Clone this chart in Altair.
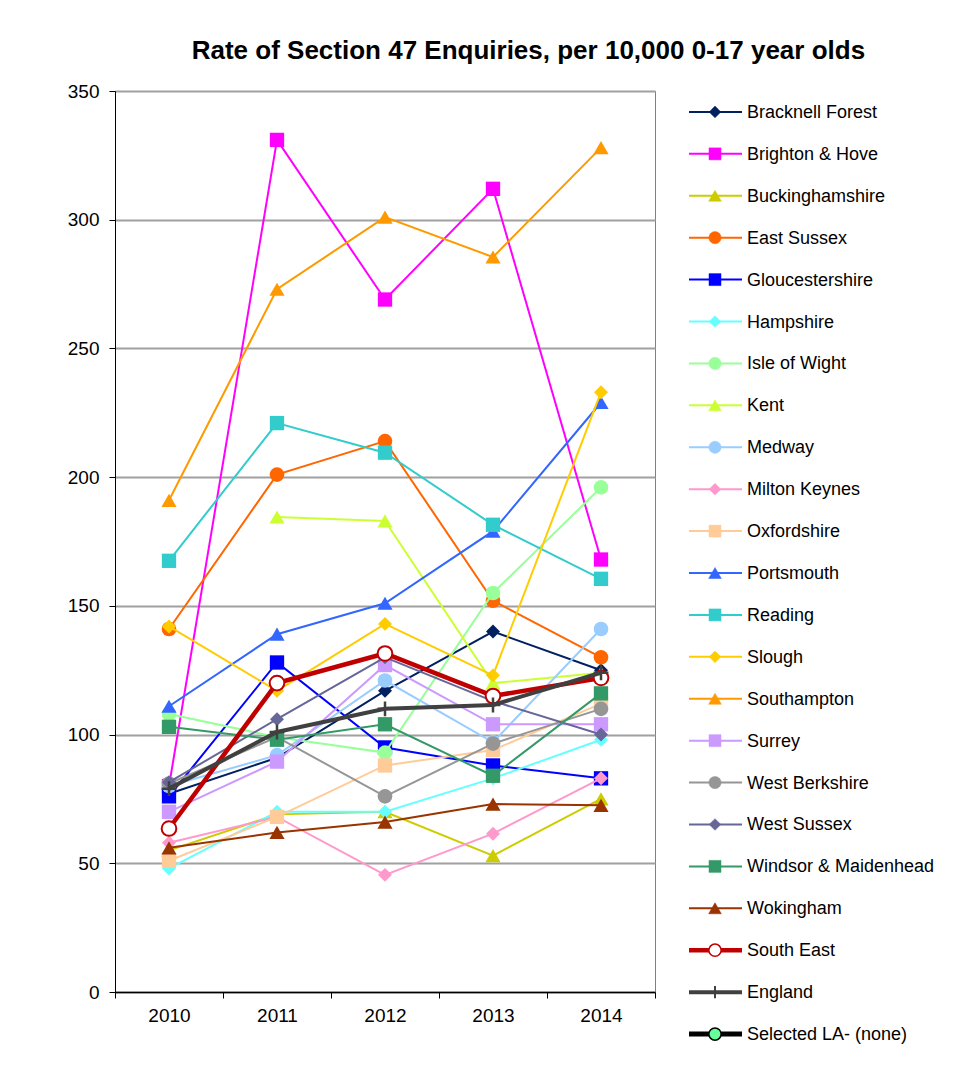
import altair as alt
import pandas as pd

FONT = "Liberation Sans, Arial, sans-serif"

years = ["2010", "2011", "2012", "2013", "2014"]

bracknell_forest = [77, 91, 117, 140, 125]
brighton_hove = [80, 331, 269, 312, 168]
buckinghamshire = [55, 69, 70, 53, 75]
east_sussex = [141, 201, 214, 152, 130]
gloucestershire = [76, 128, 95, 88, 83]
hampshire = [48, 70, 70, 83, 98]
isle_of_wight = [108, 99, 93, 155, 196]
kent = [None, 184.5, 183, 120, 124]
medway = [80, 92, 121, 97, 141]
milton_keynes = [58, 68, 45.5, 61.5, 83]
oxfordshire = [51, 68, 88, 94, 112]
portsmouth = [111, 139, 151, 179, 229]
reading = [167.5, 221, 209.5, 181.5, 160.5]
slough = [142, 117, 143, 123, 233]
southampton = [191, 273, 301, 285.5, 328]
surrey = [70, 89.5, 127, 104, 104]
west_berkshire = [81, 99, 76, 96.5, 110]
west_sussex = [81.5, 106, 130, 113, 100]
windsor_maidenhead = [103, 98, 104, 84, 116]
wokingham = [56, 62, 66, 73, 72.5]
south_east = [63.5, 120, 131.5, 115, 122]
england = [79, 101, 110, 111.5, 124]

series_names = [
    "Bracknell Forest", "Brighton & Hove", "Buckinghamshire", "East Sussex",
    "Gloucestershire", "Hampshire", "Isle of Wight", "Kent", "Medway",
    "Milton Keynes", "Oxfordshire", "Portsmouth", "Reading", "Slough",
    "Southampton", "Surrey", "West Berkshire", "West Sussex",
    "Windsor & Maidenhead", "Wokingham", "South East", "England",
]
series_values = [
    bracknell_forest, brighton_hove, buckinghamshire, east_sussex,
    gloucestershire, hampshire, isle_of_wight, kent, medway, milton_keynes,
    oxfordshire, portsmouth, reading, slough, southampton, surrey,
    west_berkshire, west_sussex, windsor_maidenhead, wokingham, south_east,
    england,
]
legend_names = series_names + ["Selected LA- (none)"]

PLUS = "M-1,0L1,0M0,-1L0,1"

# style: color, shape, line width, marker fill
styles = {
    "Bracknell Forest": ("#002060", "diamond", 2, None),
    "Brighton & Hove": ("#FF00FF", "square", 2, None),
    "Buckinghamshire": ("#CCCC00", "triangle-up", 2, None),
    "East Sussex": ("#FF6600", "circle", 2, None),
    "Gloucestershire": ("#0000FF", "square", 2, None),
    "Hampshire": ("#66FFFF", "diamond", 2, None),
    "Isle of Wight": ("#99FF99", "circle", 2, None),
    "Kent": ("#CCFF33", "triangle-up", 2, None),
    "Medway": ("#99CCFF", "circle", 2, None),
    "Milton Keynes": ("#FF99CC", "diamond", 2, None),
    "Oxfordshire": ("#FFCC99", "square", 2, None),
    "Portsmouth": ("#3366FF", "triangle-up", 2, None),
    "Reading": ("#33CCCC", "square", 2, None),
    "Slough": ("#FFCC00", "diamond", 2, None),
    "Southampton": ("#FF9900", "triangle-up", 2, None),
    "Surrey": ("#CC99FF", "square", 2, None),
    "West Berkshire": ("#969696", "circle", 2, None),
    "West Sussex": ("#666699", "diamond", 2, None),
    "Windsor & Maidenhead": ("#339966", "square", 2, None),
    "Wokingham": ("#993300", "triangle-up", 2, None),
    "South East": ("#C00000", "circle", 4.5, "white"),
    "England": ("#404040", PLUS, 4, None),
    "Selected LA- (none)": ("#000000", "circle", 5, "#66FF99"),
}
marker_size = {"diamond": 195, "square": 205, "triangle-up": 230, "circle": 215, PLUS: 220}

x_scale = alt.Scale(type="band", domain=years, paddingInner=0, paddingOuter=0)
y_scale = alt.Scale(domain=[0, 350], nice=False, zero=True)
x_axis = alt.Axis(title=None, labelFontSize=19, labelFont=FONT, labelColor="black",
                  labelAngle=0, tickBand="extent", tickSize=6, tickColor="black",
                  domainColor="black", domainWidth=1.5, grid=False, labelPadding=8)
y_axis = alt.Axis(title=None, values=[0, 50, 100, 150, 200, 250, 300, 350],
                  labelFontSize=19, labelFont=FONT, labelColor="black",
                  tickSize=6, tickColor="black", domainColor="black",
                  gridColor="#A0A0A0", gridWidth=2, labelPadding=10)

layers = []
for name, vals in zip(series_names, series_values):
    color, shape, lw, fill = styles[name]
    df = pd.DataFrame({"year": years, "value": vals, "series": name}).dropna()
    base = alt.Chart(df).encode(
        x=alt.X("year:O", scale=x_scale, axis=x_axis, bandPosition=0.5),
        y=alt.Y("value:Q", scale=y_scale, axis=y_axis),
    )
    layers.append(base.mark_line(color=color, strokeWidth=lw))
    if shape == PLUS:
        layers.append(base.mark_point(shape=shape, filled=False, stroke=color,
                                      strokeWidth=2.5, size=marker_size[shape], opacity=1))
    elif fill is not None:
        layers.append(base.mark_point(shape=shape, filled=True, fill=fill, stroke=color,
                                      strokeWidth=2, size=marker_size[shape], opacity=1))
    else:
        layers.append(base.mark_point(shape=shape, filled=True, color=color,
                                      size=marker_size[shape], opacity=1))

plot = alt.layer(*layers).properties(
    width=540, height=901,
    view=alt.ViewBackground(stroke="#808080", strokeWidth=1),
)

leg_df = pd.DataFrame({
    "series": legend_names,
    "color": [styles[n][0] for n in legend_names],
    "shape": [styles[n][1] for n in legend_names],
    "lw": [styles[n][2] for n in legend_names],
    "fill": [styles[n][3] if styles[n][3] else styles[n][0] for n in legend_names],
    "stroke": [styles[n][0] for n in legend_names],
    "msize": [marker_size[styles[n][1]] * 0.7 for n in legend_names],
    "msw": [1.5 if styles[n][3] else (2 if styles[n][1] == PLUS else 0.5) for n in legend_names],
})
ly = alt.Y("series:N", scale=alt.Scale(type="point", domain=legend_names, padding=0.5), axis=None)
leg_rule = alt.Chart(leg_df).mark_rule().encode(
    x=alt.value(33), x2=alt.value(86), y=ly,
    color=alt.Color("color:N", scale=None),
    strokeWidth=alt.StrokeWidth("lw:Q", scale=None),
)
leg_pts = alt.Chart(leg_df).mark_point(filled=True, opacity=1).encode(
    x=alt.value(59), y=ly,
    shape=alt.Shape("shape:N", scale=None),
    fill=alt.Fill("fill:N", scale=None),
    stroke=alt.Stroke("stroke:N", scale=None),
    size=alt.Size("msize:Q", scale=None),
    strokeWidth=alt.StrokeWidth("msw:Q", scale=None),
)
leg_text = alt.Chart(leg_df).mark_text(align="left", baseline="middle", fontSize=18,
                                       font=FONT, color="black", dy=1).encode(
    x=alt.value(91), y=ly, text="series:N",
)
legend = alt.layer(leg_rule, leg_pts, leg_text).properties(
    width=290, height=964, view=alt.ViewBackground(stroke=None),
)

chart = alt.hconcat(plot, legend, spacing=0).properties(
    title=alt.Title("Rate of Section 47 Enquiries, per 10,000 0-17 year olds",
                    fontSize=26, font=FONT, fontWeight="bold", color="black",
                    anchor="middle", offset=18, dx=22),
    padding={"left": 58, "top": 29, "right": 0, "bottom": 0},
).configure(background="white")

chart.save("out.html", embed_options={"renderer": "svg", "actions": False})
